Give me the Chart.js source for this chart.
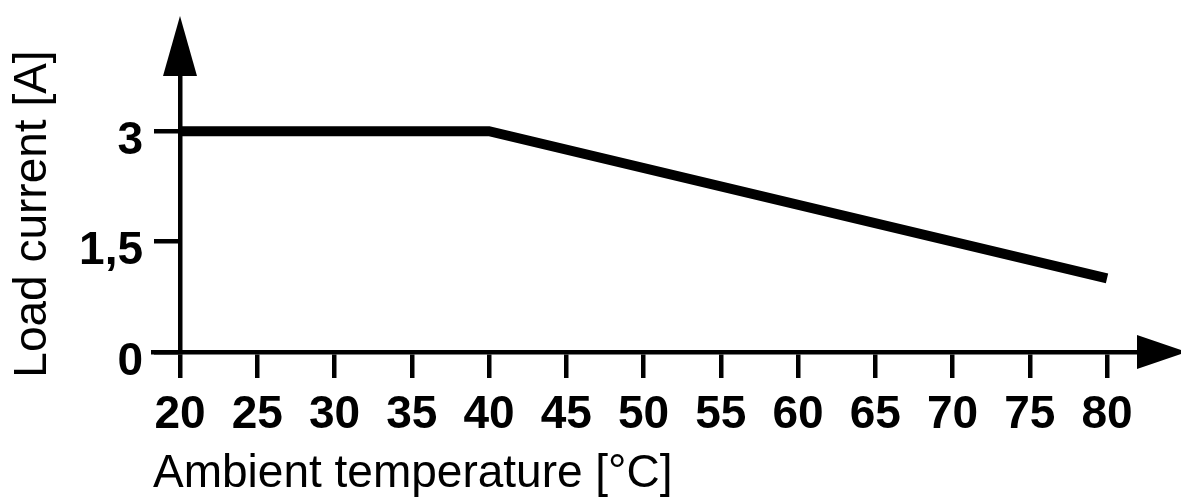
<!DOCTYPE html>
<html>
<head>
<meta charset="utf-8">
<script src="https://cdn.jsdelivr.net/npm/chart.js@4.4.1/dist/chart.umd.min.js"></script>
<style>
  html, body { margin: 0; padding: 0; background: #fff; }
  #wrap { width: 1181px; height: 502px; position: relative; }
</style>
</head>
<body>
<div id="wrap"><canvas id="c" width="1181" height="502"></canvas></div>
<script>
// ---- data ----
const temperatures = [20, 40, 80];          // Ambient temperature [°C]
const loadCurrent = [3, 3, 1];              // Load current [A]
const xTickValues = [20, 25, 30, 35, 40, 45, 50, 55, 60, 65, 70, 75, 80];
const yTickValues = [0, 1.5, 3];
const yTickLabels = ['0', '1,5', '3'];
const xTitle = 'Ambient temperature [°C]';
const yTitle = 'Load current [A]';

const FONT = '"Liberation Sans", Arial, Helvetica, sans-serif';
const INK = '#000';

const arrowPlugin = {
  id: 'axisArrows',
  afterLayout(chart) {
    // let the x-axis line and title start where the y tick at 0 begins
    const xs = chart.scales.x;
    xs.left = chart.chartArea.left - 27;
  },
  afterDraw(chart) {
    const ctx = chart.ctx;
    const a = chart.chartArea;
    const ys = chart.scales.y, xs = chart.scales.x;
    const ax = xs.getPixelForValue(xs.min);
    const ay = ys.getPixelForValue(ys.min);
    ctx.save();
    ctx.fillStyle = INK;
    // y arrow
    ctx.beginPath();
    ctx.moveTo(ax - 17, a.top);
    ctx.lineTo(ax + 17, a.top);
    ctx.lineTo(ax, a.top - 60);
    ctx.closePath();
    ctx.fill();
    // x arrow
    ctx.beginPath();
    ctx.moveTo(a.right, ay - 17);
    ctx.lineTo(a.right, ay + 17);
    ctx.lineTo(a.right + 50, ay);
    ctx.closePath();
    ctx.fill();
    ctx.restore();
  }
};

new Chart(document.getElementById('c'), {
  type: 'line',
  data: {
    datasets: [{
      data: temperatures.map((t, i) => ({ x: t, y: loadCurrent[i] })),
      borderColor: INK,
      borderWidth: 10,
      pointRadius: 0,
      tension: 0,
      fill: false,
      borderCapStyle: 'butt'
    }]
  },
  options: {
    responsive: false,
    animation: false,
    devicePixelRatio: 1,
    layout: { padding: { top: 76, right: 44, bottom: 0, left: 0 } },
    plugins: { legend: { display: false }, tooltip: { enabled: false } },
    scales: {
      x: {
        type: 'linear',
        min: 20,
        max: 81.94,
        afterBuildTicks: (s) => { s.ticks = xTickValues.map(v => ({ value: v })); },
        afterFit: (s) => { s.height = 150; },
        grid: { drawOnChartArea: false, drawTicks: true, tickLength: 26, lineWidth: 4.5, color: INK },
        border: { display: true, color: INK, width: 4.5 },
        ticks: {
          color: INK,
          padding: 10,
          maxRotation: 0,
          autoSkip: false,
          font: { family: FONT, size: 46, weight: 'bold' },
          callback: (v) => String(v)
        },
        title: {
          display: true,
          text: xTitle,
          align: 'start',
          color: INK,
          padding: { top: 0, bottom: 0 },
          font: { family: FONT, size: 46, weight: 'normal' }
        }
      },
      y: {
        type: 'linear',
        min: 0,
        max: 3.75,
        afterBuildTicks: (s) => { s.ticks = yTickValues.map(v => ({ value: v })); },
        afterFit: (s) => { s.width = 180; },
        grid: { drawOnChartArea: false, drawTicks: true, tickLength: 26, lineWidth: 4.5, color: INK },
        border: { display: true, color: INK, width: 4.5 },
        ticks: {
          color: INK,
          padding: 11,
          labelOffset: 10,
          autoSkip: false,
          font: { family: FONT, size: 46, weight: 'bold' },
          callback: (v) => { const i = yTickValues.indexOf(v); return i >= 0 ? yTickLabels[i] : ''; }
        },
        title: {
          display: true,
          text: yTitle,
          color: INK,
          padding: { top: 6, bottom: 0 },
          font: { family: FONT, size: 46, weight: 'normal' }
        }
      }
    }
  },
  plugins: [arrowPlugin]
});
</script>
</body>
</html>
